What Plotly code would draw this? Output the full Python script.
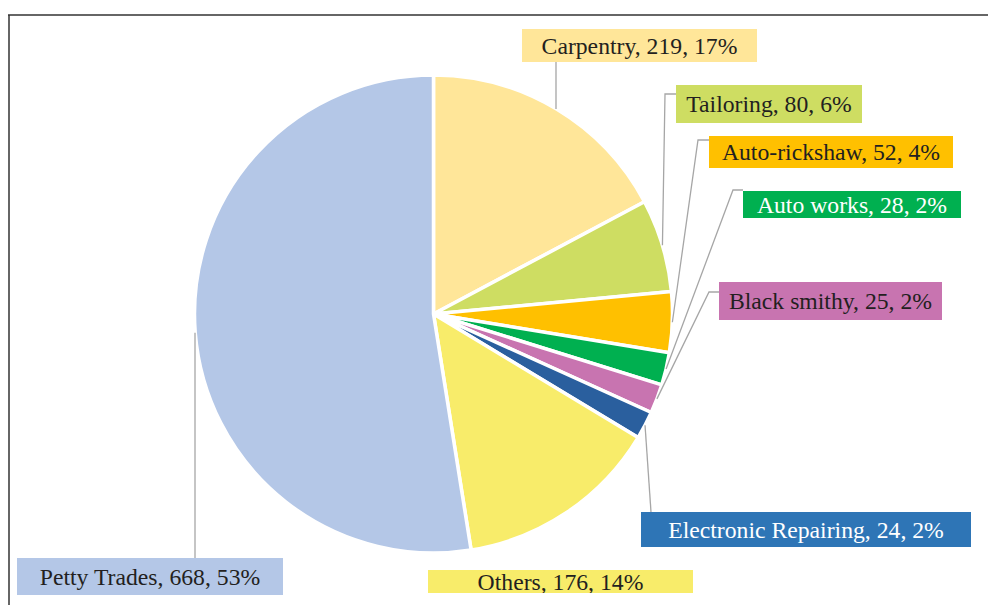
import math
import plotly.graph_objects as go

# ---- data ----
categories = ["Carpentry", "Tailoring", "Auto-rickshaw", "Auto works",
              "Black smithy", "Electronic Repairing", "Others", "Petty Trades"]
counts = [219, 80, 52, 28, 25, 24, 176, 668]
percent_labels = ["17%", "6%", "4%", "2%", "2%", "2%", "14%", "53%"]

# ---- styles ----
slice_colors = ["#FFE699", "#CEDD62", "#FFC000", "#00B050",
                "#C874B0", "#2A5F9E", "#F8EC6A", "#B4C7E7"]
box_colors = ["#FFE699", "#CEDD62", "#FFC000", "#00B050",
              "#C874B0", "#2E75B6", "#F8EC6A", "#B4C7E7"]
text_colors = ["#231F20", "#231F20", "#231F20", "#FFFFFF",
               "#231F20", "#FFFFFF", "#231F20", "#231F20"]

W, H = 988, 605
CX, CY, R = 433.5, 314, 239  # pie centre / radius in pixels

# label boxes: (left, top, right, bottom) in pixels
boxes = [
    (522, 29, 757, 62),
    (676, 85, 862, 123),
    (709, 136, 953, 168),
    (743, 191, 961, 218),
    (719, 282, 942, 320),
    (641, 512, 971, 547),
    (428, 570, 693, 593),
    (17, 558, 283, 595),
]
# leader endpoints at the box (pixel), None = no leader
leader_box_pts = [
    [(556, 62)],
    [(676, 94), (665, 94)],
    [(709, 140), (698, 140)],
    [(743, 190), (733, 190)],
    [(719, 292), (709, 292)],
    [(651, 512)],
    None,
    [(195, 558)],
]


def px(x):
    return x / W


def py(y):
    return 1 - y / H


fig = go.Figure()
fig.add_trace(go.Pie(
    labels=categories,
    values=counts,
    sort=False,
    direction="clockwise",
    rotation=0,
    marker=dict(colors=slice_colors, line=dict(color="white", width=3.5)),
    textinfo="none",
    hoverinfo="label+value+percent",
    showlegend=False,
    domain=dict(x=[px(CX - R), px(CX + R)], y=[py(CY + R), py(CY - R)]),
))

total = sum(counts)
shapes = []
annotations = []
cum = 0
for i, (cat, v) in enumerate(zip(categories, counts)):
    mid = (cum + v / 2) / total * 2 * math.pi
    cum += v
    ax = CX + R * math.sin(mid)
    ay = CY - R * math.cos(mid)
    pts = leader_box_pts[i]
    if pts is not None:
        path_pts = list(pts)
        if len(path_pts) == 1 and i in (0, 7):
            path_pts.append((pts[0][0], ay))
        else:
            path_pts.append((ax, ay))
        d = "M " + " L ".join(f"{px(x):.5f},{py(y):.5f}" for x, y in path_pts)
        shapes.append(dict(type="path", xref="paper", yref="paper", path=d,
                           line=dict(color="#A6A6A6", width=1.3)))
    l, t, r, b = boxes[i]
    annotations.append(dict(
        x=px((l + r) / 2), y=py((t + b) / 2), xref="paper", yref="paper",
        xanchor="center", yanchor="middle",
        text=f"{cat}, {v}, {percent_labels[i]}",
        showarrow=False,
        bgcolor=box_colors[i], borderpad=0, borderwidth=0,
        width=r - l, height=b - t,
        font=dict(family="Liberation Serif", size=23.7, color=text_colors[i]),
    ))

# frame lines (top and left)
shapes.append(dict(type="line", xref="paper", yref="paper",
                   x0=px(8), y0=py(15), x1=1, y1=py(15),
                   line=dict(color="#333333", width=1.5)))
shapes.append(dict(type="line", xref="paper", yref="paper",
                   x0=px(9), y0=py(15), x1=px(9), y1=0,
                   line=dict(color="#333333", width=1.5)))

fig.update_layout(
    width=W, height=H,
    margin=dict(l=0, r=0, t=0, b=0),
    paper_bgcolor="white", plot_bgcolor="white",
    shapes=shapes, annotations=annotations,
)

fig.write_html("out.html")
